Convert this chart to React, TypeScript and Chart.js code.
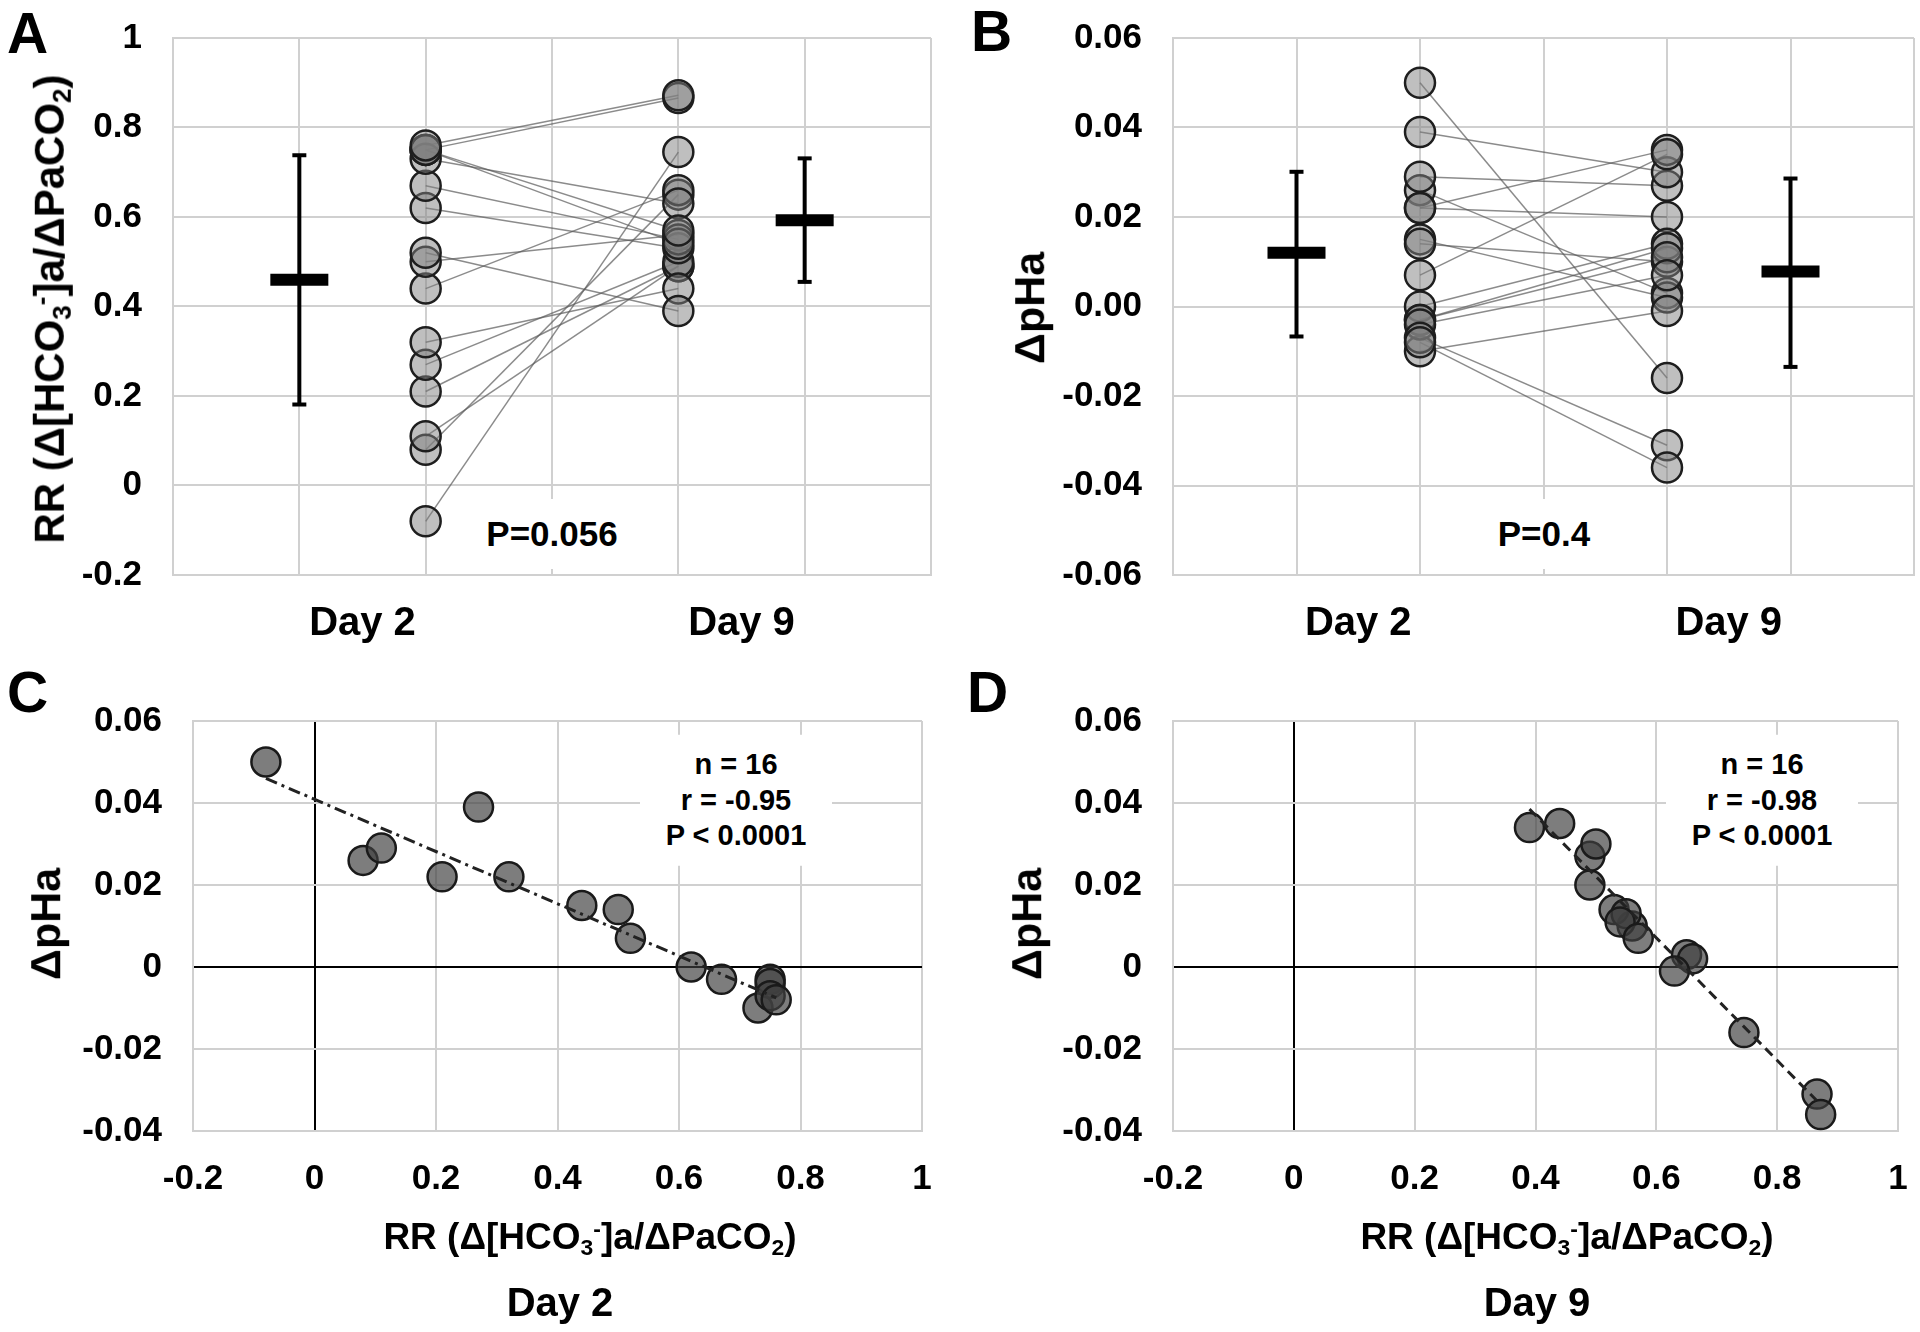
import React, { useEffect, useRef } from 'react';
import { Chart, registerables } from 'chart.js';

Chart.register(...registerables);

const FONT = '"Liberation Sans", Arial, Helvetica, sans-serif';
const GRID = '#d0d0d0';

// ---------- data (one entry per subject, n = 16) ----------
const rrDay2 = [-0.08, 0.08, 0.11, 0.21, 0.27, 0.32, 0.44, 0.5, 0.52, 0.62, 0.67, 0.73, 0.75, 0.75, 0.75, 0.76];
const phDay2 = [0.05, 0.026, 0.029, 0.022, 0.039, 0.022, 0.015, 0.014, 0.007, 0.0, -0.003, -0.01, -0.003, -0.004, -0.007, -0.008];
const rrDay9 = [0.745, 0.65, 0.49, 0.49, 0.5, 0.44, 0.66, 0.56, 0.39, 0.53, 0.55, 0.63, 0.54, 0.57, 0.866, 0.872];
const phDay9 = [-0.016, 0.003, 0.027, 0.02, 0.03, 0.035, 0.002, 0.01, 0.034, 0.014, 0.013, -0.001, 0.011, 0.007, -0.031, -0.036];

// mean and error bar ends [Day 2, Day 9]
const rrMean = [0.46, 0.593];
const rrLow = [0.181, 0.455];
const rrHigh = [0.738, 0.731];
const phMean = [0.012, 0.0078];
const phLow = [-0.0067, -0.0135];
const phHigh = [0.0301, 0.0286];

// category layout of panels A/B (x positions on a 0..6 axis)
const categories = ['Day 2', 'Day 9'];
const categoryX = [1.5, 4.5];
const summaryX = [1, 5];
const pointX = [2, 4];
const gridX = [0, 1, 2, 3, 4, 5, 6];

// tick labels
const yTicksA = [-0.2, 0, 0.2, 0.4, 0.6, 0.8, 1];
const yLabelsA = ['-0.2', '0', '0.2', '0.4', '0.6', '0.8', '1'];
const yTicksB = [-0.06, -0.04, -0.02, 0, 0.02, 0.04, 0.06];
const yLabelsB = ['-0.06', '-0.04', '-0.02', '0.00', '0.02', '0.04', '0.06'];
const yTicksCD = [-0.04, -0.02, 0, 0.02, 0.04, 0.06];
const yLabelsCD = ['-0.04', '-0.02', '0', '0.02', '0.04', '0.06'];
const xTicksCD = [-0.2, 0, 0.2, 0.4, 0.6, 0.8, 1];
const xLabelsCD = ['-0.2', '0', '0.2', '0.4', '0.6', '0.8', '1'];

// regression lines (end points)
const trendDay2X = [-0.08, 0.76];
const trendDay2Y = [0.046, -0.0075];
const trendDay9X = [0.39, 0.865];
const trendDay9Y = [0.0385, -0.0325];

const statsDay2 = ['n = 16', 'r = -0.95', 'P < 0.0001'];
const statsDay9 = ['n = 16', 'r = -0.98', 'P < 0.0001'];

// fix an axis' size and drop the extra padding chart.js reserves for labels
const fixY = (w: number) => (s: any) => {
  s.width = w;
  s.paddingTop = 0;
  s.paddingBottom = 0;
};
const fixX = (h: number) => (s: any) => {
  s.height = h;
  s.paddingLeft = 0;
  s.paddingRight = 0;
};

// ---------- chart configs ----------
function pairedConfig(p: any) {
  const datasets: any[] = [];
  datasets.push({
    data: p.d2.map((v: number) => ({ x: pointX[0], y: v })),
    showLine: false,
    pointRadius: 15,
    backgroundColor: 'rgba(128,128,128,0.5)',
    borderColor: '#1e1e1e',
    borderWidth: 2.5,
    order: 1,
  });
  datasets.push({
    data: p.d9.map((v: number) => ({ x: pointX[1], y: v })),
    showLine: false,
    pointRadius: 15,
    backgroundColor: 'rgba(128,128,128,0.5)',
    borderColor: '#1e1e1e',
    borderWidth: 2.5,
    order: 1,
  });
  p.d2.forEach((v: number, i: number) => {
    datasets.push({
      data: [
        { x: pointX[0], y: v },
        { x: pointX[1], y: p.d9[i] },
      ],
      showLine: true,
      pointRadius: 0,
      borderColor: 'rgba(90,90,90,0.7)',
      borderWidth: 1.5,
      order: 5,
    });
  });
  for (let k = 0; k < 2; k++) {
    datasets.push({
      data: [
        { x: summaryX[k], y: p.low[k] },
        { x: summaryX[k], y: p.high[k] },
      ],
      showLine: true,
      borderColor: '#000',
      borderWidth: 4,
      pointStyle: 'line',
      pointRadius: 7,
      pointBorderWidth: 4,
      pointBorderColor: '#000',
      order: 3,
    });
    datasets.push({
      data: [{ x: summaryX[k], y: p.mean[k] }],
      showLine: false,
      pointStyle: 'line',
      pointRadius: 29,
      pointBorderWidth: 12,
      pointBorderColor: '#000',
      order: 2,
    });
  }
  return {
    type: 'scatter',
    data: { datasets },
    options: {
      responsive: false,
      animation: false,
      events: [],
      layout: { padding: p.padding, autoPadding: false },
      plugins: { legend: { display: false }, tooltip: { enabled: false } },
      scales: {
        x: {
          type: 'linear',
          min: 0,
          max: 6,
          afterBuildTicks: (s: any) => {
            s.ticks = gridX.map((v) => ({ value: v }));
          },
          ticks: { display: false },
          grid: { color: GRID, lineWidth: 2, drawTicks: false },
          border: { color: GRID, width: 2 },
          afterFit: fixX(0),
        },
        xl: {
          type: 'linear',
          position: 'bottom',
          min: 0,
          max: 6,
          afterBuildTicks: (s: any) => {
            s.ticks = categoryX.map((v) => ({ value: v }));
          },
          ticks: {
            callback: (_v: any, i: number) => categories[i],
            font: { family: FONT, size: 40, weight: 'bold' },
            color: '#000',
            padding: 25,
            autoSkip: false,
            maxRotation: 0,
          },
          grid: { display: false, drawTicks: false },
          border: { display: false },
          afterFit: fixX(p.xlHeight),
        },
        y: {
          type: 'linear',
          min: p.yMin,
          max: p.yMax,
          afterBuildTicks: (s: any) => {
            s.ticks = p.yTicks.map((v: number) => ({ value: v }));
          },
          ticks: {
            callback: (_v: any, i: number) => p.yLabels[i],
            font: { family: FONT, size: 35, weight: 'bold' },
            color: '#000',
            padding: 31,
          },
          grid: { color: GRID, lineWidth: 2, drawTicks: false },
          border: { color: GRID, width: 2 },
          afterFit: fixY(p.yWidth),
        },
      },
    },
  };
}

function scatterConfig(p: any) {
  const zeroColor = (ctx: any) => (ctx.tick && ctx.tick.value === 0 ? '#000' : GRID);
  return {
    type: 'scatter',
    data: {
      datasets: [
        {
          data: p.tx.map((x: number, i: number) => ({ x, y: p.ty[i] })),
          showLine: true,
          pointRadius: 0,
          borderColor: '#222',
          borderWidth: 3,
          borderDash: p.dash,
          order: 1,
        },
        {
          data: p.xs.map((x: number, i: number) => ({ x, y: p.ys[i] })),
          showLine: false,
          pointRadius: 14.5,
          backgroundColor: 'rgba(64,64,64,0.68)',
          borderColor: '#1a1a1a',
          borderWidth: 2.5,
          order: 2,
        },
      ],
    },
    options: {
      responsive: false,
      animation: false,
      events: [],
      layout: { padding: p.padding, autoPadding: false },
      plugins: { legend: { display: false }, tooltip: { enabled: false } },
      scales: {
        x: {
          type: 'linear',
          min: -0.2,
          max: 1,
          afterBuildTicks: (s: any) => {
            s.ticks = xTicksCD.map((v) => ({ value: v }));
          },
          ticks: {
            callback: (_v: any, i: number) => xLabelsCD[i],
            font: { family: FONT, size: 35, weight: 'bold' },
            color: '#000',
            padding: 27,
            autoSkip: false,
            maxRotation: 0,
          },
          grid: { color: zeroColor, lineWidth: 2, drawTicks: false },
          border: { color: GRID, width: 2 },
          afterFit: fixX(p.xHeight),
        },
        y: {
          type: 'linear',
          min: -0.04,
          max: 0.06,
          afterBuildTicks: (s: any) => {
            s.ticks = yTicksCD.map((v) => ({ value: v }));
          },
          ticks: {
            callback: (_v: any, i: number) => yLabelsCD[i],
            font: { family: FONT, size: 35, weight: 'bold' },
            color: '#000',
            padding: 31,
          },
          grid: { color: zeroColor, lineWidth: 2, drawTicks: false },
          border: { color: GRID, width: 2 },
          afterFit: fixY(p.yWidth),
        },
      },
    },
  };
}

function ChartCanvas({ left, top, width, height, config }: any) {
  const ref = useRef<HTMLCanvasElement | null>(null);
  useEffect(() => {
    if (!ref.current) return;
    const chart = new Chart(ref.current, config as any);
    return () => chart.destroy();
  }, []);
  return (
    <canvas
      ref={ref}
      width={width}
      height={height}
      style={{ position: 'absolute', left, top, width, height }}
    />
  );
}

const baseText: React.CSSProperties = {
  position: 'absolute',
  fontFamily: FONT,
  fontWeight: 'bold',
  color: '#000',
  whiteSpace: 'nowrap',
  lineHeight: 1.2,
};

function Centered({ x, y, size, rotate, children, style }: any) {
  return (
    <div
      style={{
        ...baseText,
        left: x,
        top: y,
        fontSize: size,
        transform: `translate(-50%, -50%)${rotate ? ' rotate(-90deg)' : ''}`,
        ...style,
      }}
    >
      {children}
    </div>
  );
}

const subStyle: React.CSSProperties = { fontSize: '0.62em', verticalAlign: '-0.25em', lineHeight: 0 };
const supStyle: React.CSSProperties = { fontSize: '0.62em', verticalAlign: '0.55em', lineHeight: 0 };

function RRTitle() {
  return (
    <span>
      RR (Δ[HCO<span style={subStyle}>3</span>
      <span style={supStyle}>-</span>]a/ΔPaCO<span style={subStyle}>2</span>)
    </span>
  );
}

function Letter({ x, y, children }: any) {
  return (
    <div style={{ ...baseText, left: x, top: y, fontSize: 57, lineHeight: 1 }}>{children}</div>
  );
}

function StatsBox({ x, y, lines }: any) {
  return (
    <div
      style={{
        ...baseText,
        left: x,
        top: y,
        transform: 'translate(-50%, -50%)',
        fontSize: 29,
        lineHeight: '35.5px',
        background: '#fff',
        width: 192,
        padding: '12px 0',
        textAlign: 'center',
      }}
    >
      {lines.map((l: string, i: number) => (
        <div key={i}>{l}</div>
      ))}
    </div>
  );
}

export default function App() {
  const cfgA = pairedConfig({
    d2: rrDay2,
    d9: rrDay9,
    mean: rrMean,
    low: rrLow,
    high: rrHigh,
    yMin: -0.2,
    yMax: 1,
    yTicks: yTicksA,
    yLabels: yLabelsA,
    padding: { top: 38, right: 29, left: 0, bottom: 0 },
    yWidth: 173,
    xlHeight: 85,
  });
  const cfgB = pairedConfig({
    d2: phDay2,
    d9: phDay9,
    mean: phMean,
    low: phLow,
    high: phHigh,
    yMin: -0.06,
    yMax: 0.06,
    yTicks: yTicksB,
    yLabels: yLabelsB,
    padding: { top: 38, right: 6, left: 0, bottom: 0 },
    yWidth: 213,
    xlHeight: 85,
  });
  const cfgC = scatterConfig({
    xs: rrDay2,
    ys: phDay2,
    tx: trendDay2X,
    ty: trendDay2Y,
    dash: [12, 5, 3, 5],
    padding: { top: 61, right: 38, left: 0, bottom: 0 },
    yWidth: 193,
    xHeight: 201,
  });
  const cfgD = scatterConfig({
    xs: rrDay9,
    ys: phDay9,
    tx: trendDay9X,
    ty: trendDay9Y,
    dash: [10, 6],
    padding: { top: 61, right: 22, left: 0, bottom: 0 },
    yWidth: 213,
    xHeight: 201,
  });

  return (
    <div
      style={{
        position: 'absolute',
        left: 0,
        top: 0,
        width: 1920,
        height: 1332,
        background: '#fff',
        overflow: 'hidden',
      }}
    >
      <ChartCanvas left={0} top={0} width={960} height={660} config={cfgA} />
      <ChartCanvas left={960} top={0} width={960} height={660} config={cfgB} />
      <ChartCanvas left={0} top={660} width={960} height={672} config={cfgC} />
      <ChartCanvas left={960} top={660} width={960} height={672} config={cfgD} />

      <Letter x={7} y={4.6}>A</Letter>
      <Letter x={971} y={2.6}>B</Letter>
      <Letter x={7} y={664}>C</Letter>
      <Letter x={967} y={664}>D</Letter>

      <Centered x={50} y={309} size={42} rotate>
        <RRTitle />
      </Centered>
      <Centered x={1030} y={308} size={43} rotate>
        ΔpHa
      </Centered>
      <Centered x={46} y={924} size={43} rotate>
        ΔpHa
      </Centered>
      <Centered x={1027} y={924} size={43} rotate>
        ΔpHa
      </Centered>

      <Centered x={590} y={1237} size={37}>
        <RRTitle />
      </Centered>
      <Centered x={560} y={1302} size={40}>
        Day 2
      </Centered>
      <Centered x={1567} y={1237} size={37}>
        <RRTitle />
      </Centered>
      <Centered x={1537} y={1302} size={40}>
        Day 9
      </Centered>

      <Centered x={552} y={534} size={35} style={{ background: '#fff', padding: '14px 10px' }}>
        P=0.056
      </Centered>
      <Centered x={1544} y={534} size={35} style={{ background: '#fff', padding: '14px 10px' }}>
        P=0.4
      </Centered>

      <StatsBox x={736} y={800} lines={statsDay2} />
      <StatsBox x={1762} y={800} lines={statsDay9} />
    </div>
  );
}
